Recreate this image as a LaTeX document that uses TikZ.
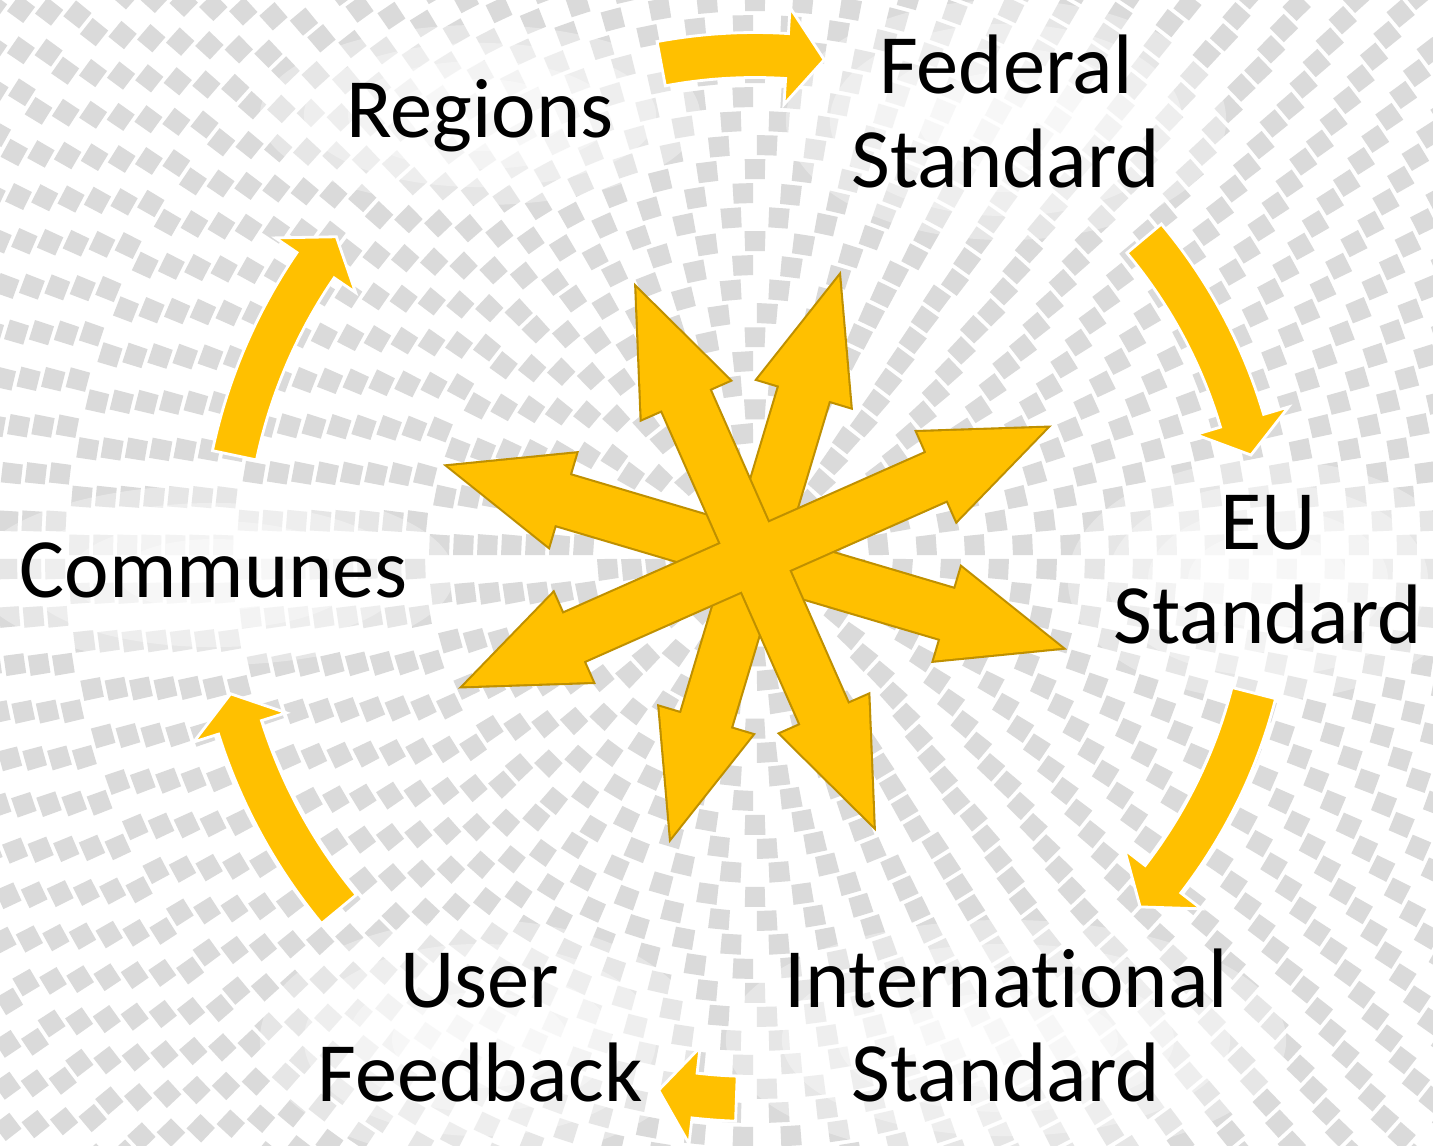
\documentclass[tikz,border=0pt]{standalone}
\usepackage{fontspec}
\setmainfont{Carlito}[Ligatures=NoCommon]
\usetikzlibrary{calc}
\definecolor{arrowgold}{RGB}{255,192,0}
\definecolor{arrowedge}{RGB}{191,144,0}
\definecolor{checkgray}{RGB}{218,218,218}
\tikzset{
	flow/.style={x=0.01cm,y=-0.01cm},
	bent arrow/.style={fill=arrowgold,draw=white,line width=0.8pt,line join=miter},
	star edge/.style={draw=arrowedge,line width=1.2pt,line join=miter},
	star fill/.style={fill=arrowgold},
	checker/.style={fill=checkgray},
	halo/.style={fill=white,fill opacity=0.35},
	stage/.style={font=\fontsize{24}{26.5}\selectfont,align=center,anchor=base,inner sep=0pt}
}
% double headed ray of the star: angle, half length, head length, head half width, style
\newcommand{\starray}[5]{%
	\path[shift={(hub)},rotate={0-(#1)},#5]
		(#2,0) -- ({#2-#3},{#4}) -- ({#2-#3},26) -- ({#3-#2},26) -- ({#3-#2},{#4})
		-- ({0-#2},0) -- ({#3-#2},{0-#4}) -- ({#3-#2},-26) -- ({#2-#3},-26) -- ({#2-#3},{0-#4}) -- cycle;}
% bent block arrow on the ring: radius, tail angle, head angle, tip angle
\newcommand{\bentarrow}[4]{%
	\pgfmathsetmacro\arcout{#1+22.5}\pgfmathsetmacro\arcin{#1-22.5}%
	\pgfmathsetmacro\headout{#1+48.5}\pgfmathsetmacro\headin{#1-48.5}%
	\draw[bent arrow,shift={(ring)}] plot[domain=#2:#3,samples=24] (\x:\arcout) -- (#3:\headout)
		-- (#4:#1) -- (#3:\headin) -- plot[domain=#3:#2,samples=24] (\x:\arcin) -- cycle;}
\newcommand{\glow}[3]{%
	\foreach \s in {1,0.8,0.6,0.4} \fill[halo] (#1) ellipse[x radius={#2*\s*1cm},y radius={#3*\s*1cm}];}

\begin{document}
\begin{tikzpicture}[flow]
	\useasboundingbox (0,0) rectangle (1433,1145);
	\coordinate (hub) at (755,557);
	\coordinate (ring) at (755,565);

	% radial checker in the background
	\begin{scope}
		\clip (0,0) rectangle (1433,1145);
		\fill[white] (0,0) rectangle (1433,1145);
		\foreach \k in {0,...,38} {
			\pgfmathsetmacro\ra{42+24*\k}
			\pgfmathsetmacro\rb{62+24*\k}
			\pgfmathtruncatemacro\n{round(3.1416*(52+24*\k)/24)}
			\pgfmathsetmacro\da{180/\n}
			\foreach \j in {1,...,\n} {
				\pgfmathsetmacro\aa{(2*\j+mod(\k,2)+0.08)*\da}
				\pgfmathsetmacro\ab{(2*\j+mod(\k,2)+0.92)*\da}
				\fill[checker,shift={(hub)}] (\aa:\ra) -- (\ab:\ra) -- (\ab:\rb) -- (\aa:\rb) -- cycle;
			}
		}
	\end{scope}

	\glow{480,115}{2.2}{0.9}
	\glow{1006,120}{2.2}{1.2}
	\glow{1268,580}{2.0}{1.2}
	\glow{214,575}{2.4}{0.9}
	\glow{480,1040}{2.2}{1.2}
	\glow{1006,1040}{2.8}{1.2}

	% ring of bent arrows
	\bentarrow{510}{-100.6}{-86.4}{-82.2}
	\bentarrow{508}{-40}{-16.5}{-12.5}
	\bentarrow{515}{14.4}{37.6}{41.6}
	\bentarrow{534}{92}{96.5}{100.4}
	\bentarrow{540}{140.4}{162.5}{166.2}
	\bentarrow{532}{191.9}{214.3}{218.1}

	% star in the middle
	\starray{-73.3}{293}{122}{48.5}{star edge}
	\starray{-73.3}{293}{122}{48.5}{star fill}
	\starray{16.5}{320}{119}{48.5}{star edge}
	\starray{16.5}{320}{119}{48.5}{star fill}
	\starray{-113.8}{294}{122}{48}{star edge}
	\starray{-23.9}{319}{120}{48.5}{star edge}
	\starray{-113.8}{294}{122}{48}{star fill}
	\starray{-23.9}{319}{120}{48.5}{star fill}

	\node[stage] (regions) at (480,137) {Regions};
	\node[stage] (federal) at (1006,187) {Federal\\Standard};
	\node[stage] (eu) at (1268,643) {EU\\Standard};
	\node[stage] (communes) at (214,597) {Communes};
	\node[stage] (user) at (480,1101) {User\\Feedback};
	\node[stage] (intl) at (1006,1101) {International\\Standard};
\end{tikzpicture}
\end{document}
